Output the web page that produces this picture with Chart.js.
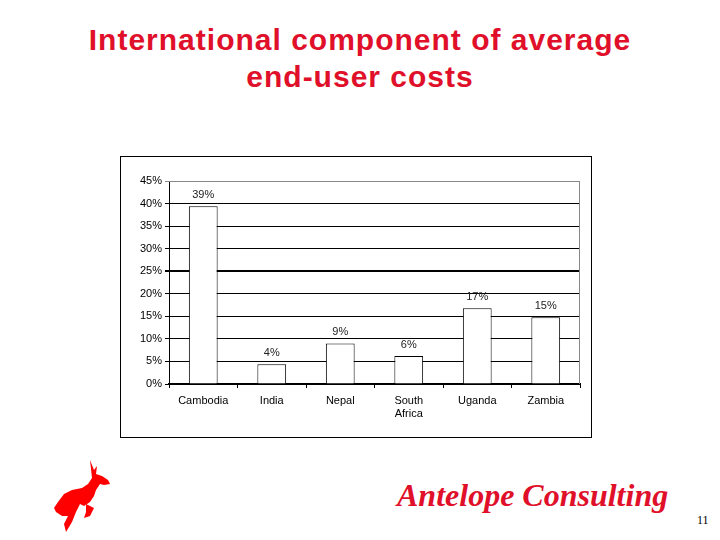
<!DOCTYPE html>
<html>
<head>
<meta charset="utf-8">
<script src="https://cdn.jsdelivr.net/npm/chart.js@4"></script>
<style>
    body { margin: 0; width: 720px; height: 540px; background: #fff; position: relative; overflow: hidden; font-family: "Liberation Sans", Arial, sans-serif; }
    #title { position: absolute; left: 0; top: 21px; width: 720px; text-align: center; color: #e0102a; font-weight: bold; font-size: 30px; letter-spacing: 1px; line-height: 37px; }
    #box { position: absolute; left: 120px; top: 156px; width: 470px; height: 280px; border: 1px solid #000; }
    #box canvas { display: block; }
    #brand { position: absolute; left: 397px; top: 477px; color: #e0102a; font-family: "Liberation Serif", "Times New Roman", serif; font-style: italic; font-weight: bold; font-size: 32px; white-space: nowrap; }
    #page { position: absolute; left: 697px; top: 513px; font-family: "Liberation Serif", serif; font-size: 12px; }
    #logo { position: absolute; left: 50px; top: 458px; }
</style>
</head>
<body>
<div id="title">International component of average<br>end-user costs</div>
<div id="box"><canvas id="costChart" width="470" height="280"></canvas></div>
<svg id="logo" width="70" height="80" viewBox="0 0 70 80">
    <path fill="#ff0000" d="M40 2 L44 12 L47 8 L46 16 L52 18 L58 22 L60 26 L54 27 L50 26 L46 32 L44 38 L40 44 L34 48 L30 46 L26 54 L22 64 L16 74 L14 66 L18 58 L12 58 L6 54 L4 50 L8 44 L14 36 L22 32 L32 30 L38 26 L42 20 Z M36 46 L44 50 L40 58 L34 60 L36 54 Z"/>
</svg>
<div id="brand">Antelope Consulting</div>
<div id="page">11</div>
<script>
const categories = ['Cambodia', 'India', 'Nepal', ['South', 'Africa'], 'Uganda', 'Zambia'];
const shares = [39.4, 4.4, 9.0, 6.2, 16.8, 14.8];
const yTicks = [0, 5, 10, 15, 20, 25, 30, 35, 40, 45];

const barLabels = {
    id: 'barLabels',
    afterDatasetsDraw(chart) {
        const ctx = chart.ctx;
        const meta = chart.getDatasetMeta(0);
        ctx.save();
        ctx.font = '11px "Liberation Sans", Arial, sans-serif';
        ctx.fillStyle = '#222';
        ctx.textAlign = 'center';
        ctx.textBaseline = 'bottom';
        meta.data.forEach((bar, i) => {
            ctx.fillText(Math.round(shares[i]) + '%', bar.x, bar.y - 6);
        });
        ctx.restore();
    }
};

const plotFrame = {
    id: 'plotFrame',
    afterDraw(chart) {
        const a = chart.chartArea;
        const ctx = chart.ctx;
        ctx.save();
        ctx.strokeStyle = '#888';
        ctx.lineWidth = 1;
        ctx.beginPath();
        ctx.moveTo(a.left, a.top + 0.5);
        ctx.lineTo(a.right - 0.5, a.top + 0.5);
        ctx.lineTo(a.right - 0.5, a.bottom);
        ctx.stroke();
        ctx.restore();
    }
};

new Chart(document.getElementById('costChart'), {
    type: 'bar',
    data: {
        labels: categories,
        datasets: [{
            data: shares,
            backgroundColor: '#fff',
            borderColor: '#000',
            borderWidth: 1,
            barPercentage: 0.42,
            categoryPercentage: 1
        }]
    },
    options: {
        responsive: false,
        animation: false,
        layout: { padding: { top: 24, right: 11, bottom: 0, left: 0 } },
        plugins: { legend: { display: false }, tooltip: { enabled: false } },
        scales: {
            x: {
                grid: { offset: true, drawOnChartArea: false, color: '#000', tickLength: 4 },
                border: { color: '#000', width: 2 },
                ticks: { color: '#000', font: { family: '"Liberation Sans", Arial, sans-serif', size: 11 }, padding: 6, maxRotation: 0 },
                afterFit(scale) { scale.height = 53; }
            },
            y: {
                min: 0,
                max: 45,
                afterBuildTicks(scale) { scale.ticks = yTicks.map((v) => ({ value: v })); },
                grid: {
                    color: (c) => (c.tick && c.tick.value === 45 ? '#888' : '#000'),
                    lineWidth: (c) => (c.tick && c.tick.value === 25 ? 2 : 1),
                    tickLength: 4
                },
                border: { color: '#000', width: 1 },
                ticks: {
                    color: '#000',
                    font: { family: '"Liberation Sans", Arial, sans-serif', size: 11 },
                    padding: 3,
                    callback: (v) => v + '%'
                },
                afterFit(scale) { scale.width = 48; }
            }
        }
    },
    plugins: [barLabels, plotFrame]
});
</script>
</body>
</html>
